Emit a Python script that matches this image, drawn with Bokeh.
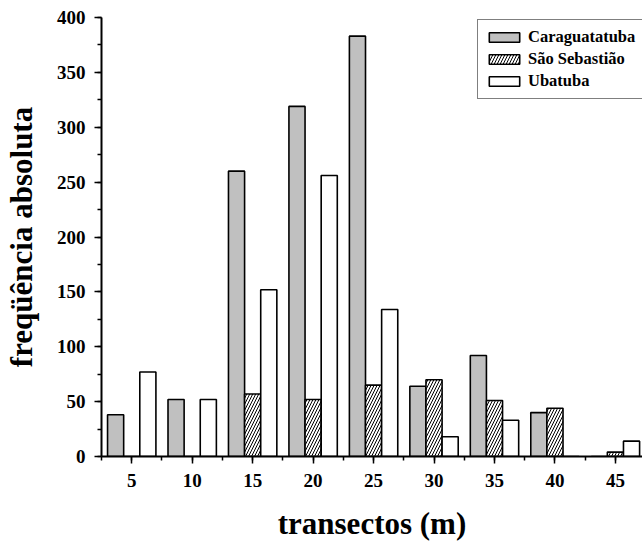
from bokeh.plotting import figure
from bokeh.models import ColumnDataSource, Range1d, SingleIntervalTicker, Legend, LegendItem
from bokeh.embed import file_html
from bokeh.resources import INLINE

transects = [5, 10, 15, 20, 25, 30, 35, 40, 45]
caraguatatuba = [38, 52, 260, 319, 383, 64, 92, 40, 0]
sao_sebastiao = [0, 0, 57, 52, 65, 70, 51, 44, 4]
ubatuba = [77, 52, 152, 256, 134, 18, 33, 0, 14]
series_names = ["Caraguatatuba", "São Sebastião", "Ubatuba"]

bar_w = 4.0 / 3.0
FONT = "Liberation Serif"

p = figure(width=642, height=543, output_backend="svg", toolbar_location=None,
           x_range=Range1d(2.5, 47.24), y_range=Range1d(0, 400),
           min_border_left=101, min_border_right=0, min_border_top=17, min_border_bottom=86)
p.outline_line_color = None
p.xgrid.visible = False
p.ygrid.visible = False
p.background_fill_color = "white"
p.border_fill_color = "white"

src = ColumnDataSource(dict(
    x1=[t - bar_w for t in transects], y1=caraguatatuba,
    x2=list(transects), y2=sao_sebastiao,
    x3=[t + bar_w for t in transects], y3=ubatuba,
))

r1 = p.vbar(x="x1", top="y1", width=bar_w, source=src, fill_color="#c0c0c0",
            line_color="black", line_width=1.6)
r2 = p.vbar(x="x2", top="y2", width=bar_w, source=src, fill_color="white",
            line_color="black", line_width=1.6, hatch_pattern="/", hatch_color="black",
            hatch_scale=6, hatch_weight=1)
r3 = p.vbar(x="x3", top="y3", width=bar_w, source=src, fill_color="white",
            line_color="black", line_width=1.6)

for ax in (p.xaxis[0], p.yaxis[0]):
    ax.axis_line_width = 2
    ax.axis_line_color = "black"
    ax.major_tick_line_width = 1.5
    ax.minor_tick_line_width = 1.5
    ax.major_tick_in = 0
    ax.major_tick_out = 7
    ax.minor_tick_in = 0
    ax.minor_tick_out = 4
    ax.major_label_text_font = FONT
    ax.major_label_text_font_style = "bold"
    ax.major_label_text_font_size = "19px"
    ax.major_label_text_color = "black"
    ax.axis_label_text_font = FONT
    ax.axis_label_text_font_style = "bold"
    ax.axis_label_text_font_size = "31px"
    ax.axis_label_text_color = "black"

p.xaxis[0].ticker = SingleIntervalTicker(interval=5, num_minor_ticks=2)
p.yaxis[0].ticker = SingleIntervalTicker(interval=50, num_minor_ticks=2)
p.xaxis[0].major_label_standoff = 10
p.yaxis[0].major_label_standoff = 9
p.xaxis[0].axis_label = "transectos (m)"
p.yaxis[0].axis_label = "freqüência absoluta"
p.xaxis[0].axis_label_standoff = 16
p.yaxis[0].axis_label_standoff = 15

legend = Legend(items=[
    LegendItem(label=series_names[0], renderers=[r1]),
    LegendItem(label=series_names[1], renderers=[r2]),
    LegendItem(label=series_names[2], renderers=[r3]),
], location=(376, 357))
legend.margin = 0
legend.padding = 7
legend.spacing = 2
legend.glyph_width = 38
legend.glyph_height = 12
legend.label_height = 20
legend.label_standoff = 5
legend.label_text_font = FONT
legend.label_text_font_style = "bold"
legend.label_text_font_size = "16.5px"
legend.label_text_color = "black"
legend.border_line_color = "black"
legend.border_line_width = 1
legend.background_fill_color = "white"
legend.background_fill_alpha = 1
p.add_layout(legend)

open("out.html", "w").write(file_html(p, INLINE))
